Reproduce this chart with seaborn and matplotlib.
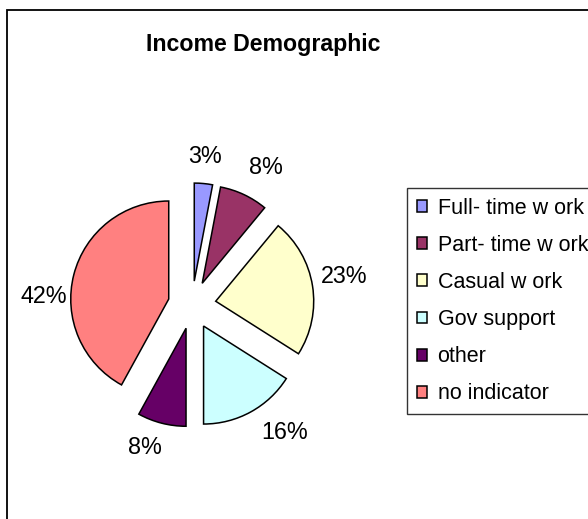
import matplotlib
matplotlib.use("Agg")
import matplotlib.pyplot as plt
import seaborn as sns
from matplotlib.patches import Rectangle

# Income source shares (percent)
categories = ["Full- time w ork", "Part- time w ork", "Casual w ork",
              "Gov support", "other", "no indicator"]
shares = [3, 8, 23, 16, 8, 42]
slice_colors = ["#9999FF", "#993366", "#FFFFCC", "#CCFFFF", "#660066", "#FF8080"]

# Where each percentage label sits, in pie radius units
label_xy = [(0.133, 1.520), (0.755, 1.408), (1.551, 0.286),
            (0.949, -1.296), (-0.480, -1.449), (-1.510, 0.082)]

sns.set_theme(style="white")
plt.rcParams["font.family"] = ["Liberation Sans", "DejaVu Sans"]
plt.rcParams["text.color"] = "black"

W, H = 588, 519
fig = plt.figure(figsize=(W / 100, H / 100), dpi=100)
fig.patch.set_facecolor("white")

# pie centre (px) and radius (px)
cx, cy, rpx = 192, 305, 98
half = 2.0
ax = fig.add_axes([(cx - half * rpx) / W, (H - cy - half * rpx) / H,
                   2 * half * rpx / W, 2 * half * rpx / H])

palette = sns.color_palette(slice_colors)
wedges, _ = ax.pie(shares, colors=palette, startangle=90, counterclock=False,
                   explode=[0.245] * len(shares), radius=1.0,
                   wedgeprops=dict(edgecolor="black", linewidth=1.1))
ax.set_xlim(-half, half)
ax.set_ylim(-half, half)
ax.set_aspect("equal")
ax.axis("off")

for v, (lx, ly) in zip(shares, label_xy):
    ax.text(lx, ly, f"{v:.0f}%", ha="center", va="center", fontsize=16.8,
            color="black", clip_on=False)

fig.text(263 / W, 1 - 44 / H, "Income Demographic", ha="center", va="center",
         fontsize=16.7, fontweight="bold", color="black")

leg = ax.legend(wedges, categories, loc="upper left",
                bbox_to_anchor=(407 / W, 1 - 188 / H), bbox_transform=fig.transFigure,
                borderaxespad=0, fontsize=15.5, frameon=True, fancybox=False,
                handlelength=0.47, handleheight=0.47, handletextpad=0.5,
                borderpad=0.45, labelspacing=0.75, labelcolor="black")
leg.get_frame().set_edgecolor("black")
leg.get_frame().set_linewidth(1.0)

# outer chart border (only left and top edges fall inside the canvas)
fig.patches.append(Rectangle((7 / W, -0.2), 1.5, 1 - 10 / H + 0.2,
                             transform=fig.transFigure, fill=False,
                             edgecolor="black", linewidth=1.3))

fig.savefig("out.png", dpi=100)
